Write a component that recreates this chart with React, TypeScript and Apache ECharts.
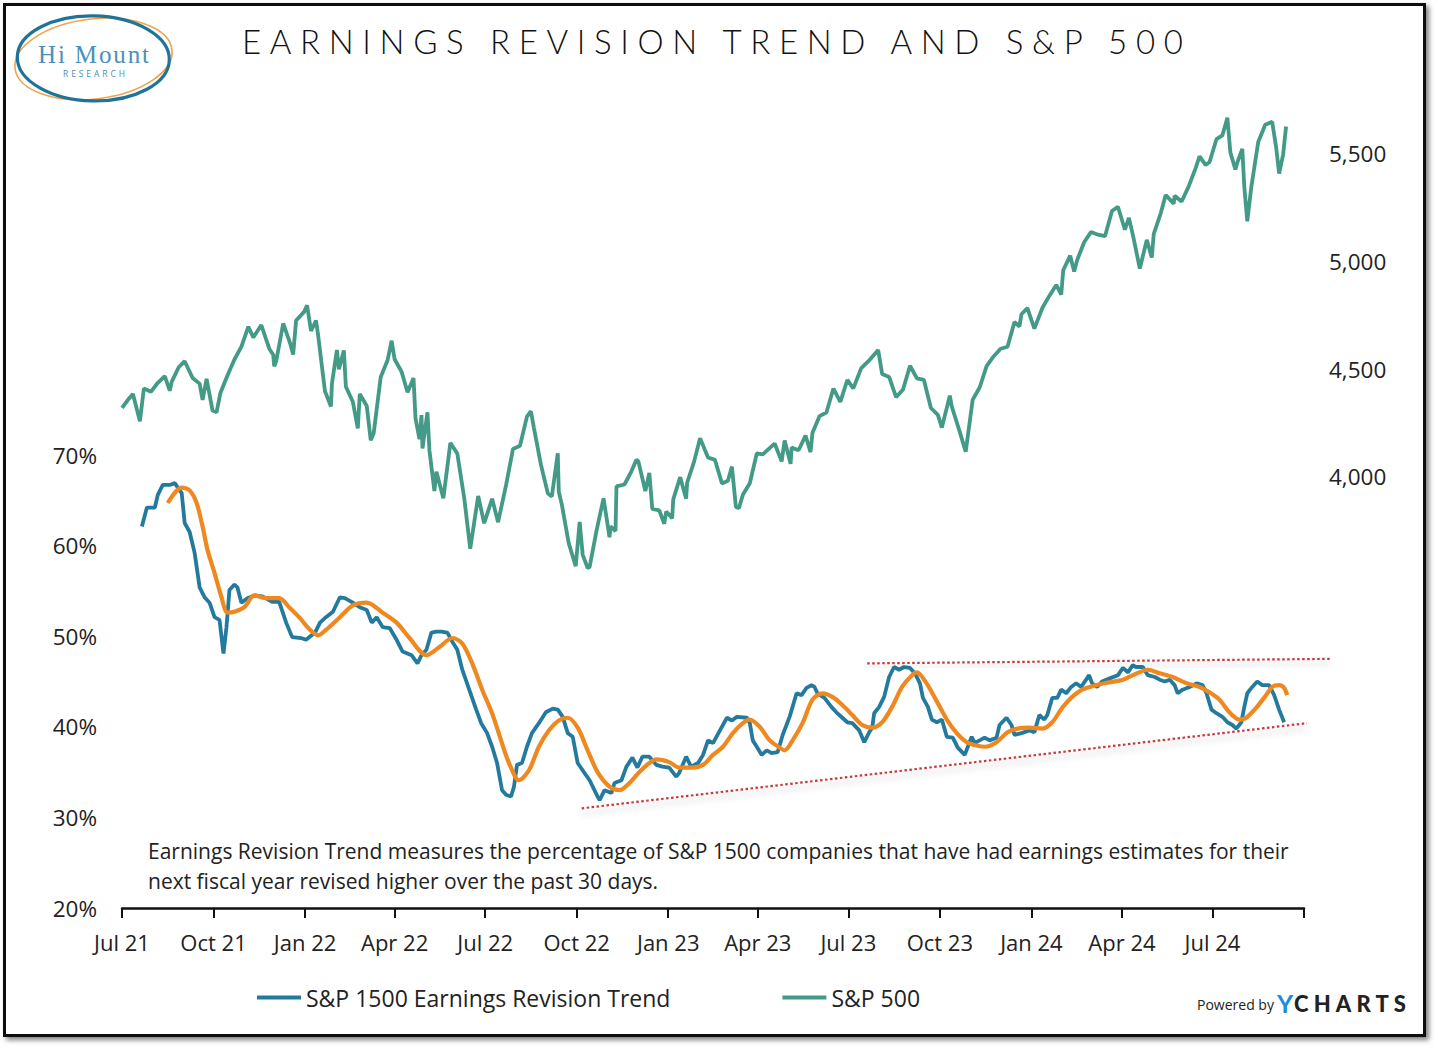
import React, { useEffect, useRef } from 'react';
import * as echarts from 'echarts';

const TITLE = 'EARNINGS REVISION TREND AND S&P 500';
const NOTE_LINES = [
  'Earnings Revision Trend measures the percentage of S&P 1500 companies that have had earnings estimates for their',
  'next fiscal year revised higher over the past 30 days.',
];
const SERIES_REVISION = 'S&P 1500 Earnings Revision Trend';
const SERIES_AVG = 'Earnings Revision Trend Average';
const SERIES_SPX = 'S&P 500';

const QUARTER_TICKS = [
  '2021-07-01', '2021-10-01', '2022-01-01', '2022-04-01', '2022-07-01', '2022-10-01', '2023-01-01',
  '2023-04-01', '2023-07-01', '2023-10-01', '2024-01-01', '2024-04-01', '2024-07-01', '2024-10-01',
];
const QUARTER_LABELS = [
  'Jul 21', 'Oct 21', 'Jan 22', 'Apr 22', 'Jul 22', 'Oct 22', 'Jan 23',
  'Apr 23', 'Jul 23', 'Oct 23', 'Jan 24', 'Apr 24', 'Jul 24', '',
];
const LEFT_TICKS = [20, 30, 40, 50, 60, 70];
const RIGHT_TICKS = [4000, 4500, 5000, 5500];

const REVISION: [string, number][] = [
  ['2021-07-21', 62.1], ['2021-07-26', 64.2], ['2021-08-03', 64.2], ['2021-08-06', 65.6], ['2021-08-11', 66.7],
  ['2021-08-18', 66.7], ['2021-08-23', 66.9], ['2021-08-30', 65.8], ['2021-09-02', 62.5], ['2021-09-07', 61.5],
  ['2021-09-12', 59.2], ['2021-09-17', 55.4], ['2021-09-22', 54.3], ['2021-09-27', 53.7], ['2021-10-02', 52.1],
  ['2021-10-07', 51.8], ['2021-10-11', 48.1], ['2021-10-14', 51.0], ['2021-10-17', 55.1], ['2021-10-22', 55.7],
  ['2021-10-25', 55.4], ['2021-10-29', 53.7], ['2021-11-04', 54.2], ['2021-11-11', 54.5], ['2021-11-19', 54.4],
  ['2021-11-29', 53.8], ['2021-12-06', 53.8], ['2021-12-13', 51.5], ['2021-12-19', 49.9], ['2021-12-28', 49.8],
  ['2022-01-02', 49.6], ['2022-01-11', 50.4], ['2022-01-16', 51.5], ['2022-01-22', 52.1], ['2022-01-29', 52.7],
  ['2022-02-05', 54.3], ['2022-02-10', 54.2], ['2022-02-18', 53.7], ['2022-02-25', 53.2], ['2022-03-04', 52.9],
  ['2022-03-09', 51.5], ['2022-03-14', 52.1], ['2022-03-20', 51.0], ['2022-03-27', 50.9], ['2022-04-03', 49.6],
  ['2022-04-09', 48.3], ['2022-04-18', 47.9], ['2022-04-24', 47.0], ['2022-04-28', 47.9], ['2022-05-03', 48.5],
  ['2022-05-08', 50.4], ['2022-05-13', 50.5], ['2022-05-18', 50.5], ['2022-05-24', 50.4], ['2022-05-29', 49.4],
  ['2022-06-03', 48.5], ['2022-06-08', 46.3], ['2022-06-15', 44.1], ['2022-06-22', 41.9], ['2022-06-27', 40.4],
  ['2022-07-03', 39.3], ['2022-07-08', 37.8], ['2022-07-13', 36.0], ['2022-07-18', 33.0], ['2022-07-22', 32.5],
  ['2022-07-27', 32.3], ['2022-07-30', 33.4], ['2022-08-02', 35.8], ['2022-08-07', 36.0], ['2022-08-12', 37.8],
  ['2022-08-17', 39.3], ['2022-08-24', 40.4], ['2022-08-31', 41.6], ['2022-09-07', 42.0], ['2022-09-12', 41.9],
  ['2022-09-17', 41.1], ['2022-09-22', 39.3], ['2022-09-27', 38.9], ['2022-10-02', 36.0], ['2022-10-07', 35.2],
  ['2022-10-14', 34.1], ['2022-10-22', 32.3], ['2022-10-24', 31.9], ['2022-10-29', 33.0], ['2022-11-05', 32.7],
  ['2022-11-08', 33.8], ['2022-11-15', 34.1], ['2022-11-20', 35.6], ['2022-11-26', 36.6], ['2022-12-01', 35.5],
  ['2022-12-06', 36.7], ['2022-12-13', 36.7], ['2022-12-20', 35.8], ['2022-12-26', 35.6], ['2023-01-02', 35.5],
  ['2023-01-09', 34.5], ['2023-01-12', 34.9], ['2023-01-19', 36.7], ['2023-01-24', 35.6], ['2023-01-31', 36.0],
  ['2023-02-05', 36.9], ['2023-02-10', 38.5], ['2023-02-15', 38.2], ['2023-02-22', 39.6], ['2023-03-01', 41.0],
  ['2023-03-06', 40.7], ['2023-03-11', 41.1], ['2023-03-21', 41.0], ['2023-03-24', 40.4], ['2023-03-27', 38.5],
  ['2023-03-31', 37.8], ['2023-04-05', 36.9], ['2023-04-10', 37.4], ['2023-04-15', 37.1], ['2023-04-21', 37.2],
  ['2023-04-26', 39.1], ['2023-05-03', 41.1], ['2023-05-10', 43.7], ['2023-05-15', 43.5], ['2023-05-20', 44.3],
  ['2023-05-25', 44.6], ['2023-05-28', 44.4], ['2023-05-31', 43.7], ['2023-06-07', 43.2], ['2023-06-14', 42.2],
  ['2023-06-19', 41.6], ['2023-06-25', 41.0], ['2023-06-30', 40.5], ['2023-07-05', 40.4], ['2023-07-12', 39.6],
  ['2023-07-17', 38.3], ['2023-07-22', 39.4], ['2023-07-25', 39.9], ['2023-07-27', 41.5], ['2023-08-01', 42.2],
  ['2023-08-06', 43.3], ['2023-08-11', 45.5], ['2023-08-16', 46.6], ['2023-08-21', 46.3], ['2023-08-26', 46.6],
  ['2023-09-01', 46.5], ['2023-09-06', 45.9], ['2023-09-11', 44.8], ['2023-09-14', 43.2], ['2023-09-19', 42.2],
  ['2023-09-23', 40.8], ['2023-09-28', 40.5], ['2023-10-03', 40.8], ['2023-10-08', 38.9], ['2023-10-14', 38.8],
  ['2023-10-19', 37.7], ['2023-10-26', 36.9], ['2023-11-02', 38.9], ['2023-11-05', 38.2], ['2023-11-15', 38.8],
  ['2023-11-20', 38.5], ['2023-11-27', 38.8], ['2023-11-30', 40.2], ['2023-12-07', 41.0], ['2023-12-12', 40.2],
  ['2023-12-15', 39.1], ['2023-12-22', 39.3], ['2023-12-30', 39.6], ['2024-01-04', 39.4], ['2024-01-09', 41.3],
  ['2024-01-14', 40.8], ['2024-01-17', 41.3], ['2024-01-22', 43.2], ['2024-01-27', 43.2], ['2024-01-31', 44.1],
  ['2024-02-05', 43.7], ['2024-02-10', 44.4], ['2024-02-15', 44.8], ['2024-02-20', 44.4], ['2024-02-25', 45.2],
  ['2024-02-28', 45.7], ['2024-03-02', 44.8], ['2024-03-07', 44.4], ['2024-03-12', 45.0], ['2024-03-21', 45.4],
  ['2024-03-28', 45.7], ['2024-04-02', 46.5], ['2024-04-07', 46.0], ['2024-04-12', 46.8], ['2024-04-15', 46.6],
  ['2024-04-22', 46.6], ['2024-04-27', 45.7], ['2024-05-04', 45.5], ['2024-05-09', 45.2], ['2024-05-14', 45.0],
  ['2024-05-19', 45.2], ['2024-05-24', 44.6], ['2024-05-27', 43.7], ['2024-06-01', 44.1], ['2024-06-08', 44.4],
  ['2024-06-15', 44.8], ['2024-06-21', 44.6], ['2024-06-25', 43.7], ['2024-06-30', 41.9], ['2024-07-05', 41.5],
  ['2024-07-11', 41.1], ['2024-07-16', 40.5], ['2024-07-21', 40.2], ['2024-07-25', 39.8], ['2024-07-30', 40.5],
  ['2024-08-02', 42.2], ['2024-08-05', 43.7], ['2024-08-10', 44.4], ['2024-08-15', 45.0], ['2024-08-20', 44.6],
  ['2024-08-27', 44.6], ['2024-09-01', 43.5], ['2024-09-06', 41.9], ['2024-09-11', 40.5],
];

const REVISION_AVG: [string, number][] = [
  ['2021-08-16', 64.7], ['2021-08-30', 66.4], ['2021-09-07', 66.1], ['2021-09-14', 64.7], ['2021-09-20', 62.1],
  ['2021-09-25', 59.5], ['2021-10-02', 57.0], ['2021-10-09', 54.3], ['2021-10-15', 52.6], ['2021-10-22', 52.7],
  ['2021-11-01', 53.2], ['2021-11-11', 54.5], ['2021-11-23', 54.2], ['2021-12-06', 54.2], ['2021-12-16', 53.2],
  ['2021-12-26', 52.1], ['2022-01-06', 50.7], ['2022-01-14', 50.1], ['2022-01-22', 50.7], ['2022-02-05', 52.1],
  ['2022-02-18', 53.4], ['2022-03-04', 53.7], ['2022-03-20', 52.6], ['2022-04-03', 51.5], ['2022-04-16', 49.8],
  ['2022-05-03', 47.9], ['2022-05-16', 48.8], ['2022-05-29', 49.8], ['2022-06-08', 49.2], ['2022-06-18', 47.0],
  ['2022-06-28', 44.1], ['2022-07-08', 41.5], ['2022-07-17', 38.5], ['2022-07-25', 36.0], ['2022-08-04', 34.1],
  ['2022-08-14', 35.2], ['2022-08-24', 37.8], ['2022-09-03', 39.6], ['2022-09-13', 40.7], ['2022-09-22', 41.0],
  ['2022-10-02', 39.9], ['2022-10-12', 37.4], ['2022-10-22', 35.0], ['2022-11-03', 33.4], ['2022-11-13', 33.0],
  ['2022-11-23', 33.8], ['2022-12-03', 35.0], ['2022-12-13', 36.0], ['2022-12-20', 36.4], ['2023-01-02', 36.1],
  ['2023-01-12', 35.5], ['2023-01-25', 35.5], ['2023-02-05', 35.8], ['2023-02-15', 36.9], ['2023-02-25', 37.8],
  ['2023-03-07', 39.3], ['2023-03-17', 40.4], ['2023-03-24', 40.8], ['2023-04-03', 40.0], ['2023-04-13', 38.5],
  ['2023-04-23', 37.7], ['2023-04-28', 37.4], ['2023-05-06', 38.5], ['2023-05-16', 40.4], ['2023-05-26', 43.0],
  ['2023-06-05', 43.7], ['2023-06-15', 43.3], ['2023-06-25', 42.4], ['2023-07-05', 41.3], ['2023-07-15', 40.2],
  ['2023-07-25', 39.9], ['2023-08-04', 40.5], ['2023-08-14', 42.2], ['2023-08-24', 44.4], ['2023-09-03', 45.7],
  ['2023-09-08', 46.0], ['2023-09-17', 44.9], ['2023-09-27', 43.0], ['2023-10-08', 40.8], ['2023-10-18', 39.3],
  ['2023-10-28', 38.3], ['2023-11-08', 37.9], ['2023-11-15', 37.8], ['2023-11-27', 38.3], ['2023-12-08', 39.4],
  ['2023-12-18', 39.8], ['2023-12-30', 39.9], ['2024-01-12', 39.8], ['2024-01-22', 40.5], ['2024-02-01', 42.1],
  ['2024-02-11', 43.3], ['2024-02-21', 44.1], ['2024-03-06', 44.6], ['2024-03-19', 44.9], ['2024-04-02', 45.2],
  ['2024-04-12', 45.7], ['2024-04-27', 46.3], ['2024-05-09', 45.9], ['2024-05-22', 45.5], ['2024-06-05', 44.8],
  ['2024-06-18', 44.4], ['2024-06-28', 43.8], ['2024-07-08', 43.0], ['2024-07-18', 41.6], ['2024-07-28', 40.8],
  ['2024-08-04', 41.0], ['2024-08-14', 42.1], ['2024-08-24', 43.5], ['2024-08-30', 44.4], ['2024-09-06', 44.6],
  ['2024-09-11', 44.3], ['2024-09-14', 43.5],
];

const SP500: [string, number][] = [
  ['2021-07-01', 4320], ['2021-07-07', 4358], ['2021-07-12', 4385], ['2021-07-19', 4258], ['2021-07-23', 4411],
  ['2021-07-30', 4395], ['2021-08-06', 4437], ['2021-08-13', 4468], ['2021-08-18', 4400], ['2021-08-20', 4442],
  ['2021-08-27', 4509], ['2021-09-02', 4537], ['2021-09-10', 4459], ['2021-09-17', 4433], ['2021-09-20', 4358],
  ['2021-09-24', 4455], ['2021-09-30', 4308], ['2021-10-04', 4300], ['2021-10-08', 4391], ['2021-10-15', 4471],
  ['2021-10-22', 4545], ['2021-10-29', 4605], ['2021-11-05', 4697], ['2021-11-10', 4647], ['2021-11-18', 4705],
  ['2021-11-26', 4595], ['2021-11-30', 4567], ['2021-12-01', 4513], ['2021-12-03', 4538], ['2021-12-10', 4712],
  ['2021-12-17', 4620], ['2021-12-20', 4568], ['2021-12-23', 4726], ['2021-12-31', 4766], ['2022-01-03', 4797],
  ['2022-01-07', 4677], ['2022-01-12', 4726], ['2022-01-14', 4662], ['2022-01-21', 4398], ['2022-01-27', 4327],
  ['2022-01-28', 4432], ['2022-02-02', 4589], ['2022-02-04', 4500], ['2022-02-09', 4587], ['2022-02-11', 4419],
  ['2022-02-18', 4349], ['2022-02-23', 4225], ['2022-02-25', 4385], ['2022-03-04', 4329], ['2022-03-08', 4170],
  ['2022-03-11', 4204], ['2022-03-18', 4463], ['2022-03-25', 4543], ['2022-03-29', 4632], ['2022-04-01', 4546],
  ['2022-04-08', 4488], ['2022-04-14', 4393], ['2022-04-20', 4459], ['2022-04-22', 4272], ['2022-04-26', 4175],
  ['2022-04-28', 4287], ['2022-04-29', 4132], ['2022-05-04', 4300], ['2022-05-06', 4123], ['2022-05-11', 3935],
  ['2022-05-13', 4024], ['2022-05-20', 3901], ['2022-05-27', 4158], ['2022-06-03', 4109], ['2022-06-10', 3901],
  ['2022-06-16', 3667], ['2022-06-24', 3912], ['2022-06-30', 3785], ['2022-07-08', 3899], ['2022-07-14', 3790],
  ['2022-07-22', 3962], ['2022-07-29', 4130], ['2022-08-05', 4145], ['2022-08-12', 4280], ['2022-08-16', 4305],
  ['2022-08-19', 4228], ['2022-08-26', 4058], ['2022-09-02', 3924], ['2022-09-06', 3909], ['2022-09-12', 4110],
  ['2022-09-13', 3932], ['2022-09-16', 3873], ['2022-09-23', 3693], ['2022-09-30', 3586], ['2022-10-04', 3791],
  ['2022-10-07', 3640], ['2022-10-12', 3577], ['2022-10-14', 3583], ['2022-10-21', 3752], ['2022-10-28', 3901],
  ['2022-11-03', 3720], ['2022-11-04', 3771], ['2022-11-09', 3749], ['2022-11-10', 3956], ['2022-11-18', 3965],
  ['2022-11-25', 4026], ['2022-11-30', 4080], ['2022-12-02', 4072], ['2022-12-09', 3934], ['2022-12-13', 4019],
  ['2022-12-16', 3852], ['2022-12-23', 3845], ['2022-12-28', 3783], ['2022-12-30', 3840], ['2023-01-05', 3808],
  ['2023-01-06', 3895], ['2023-01-13', 3999], ['2023-01-19', 3899], ['2023-01-20', 3973], ['2023-01-27', 4071],
  ['2023-02-02', 4180], ['2023-02-10', 4090], ['2023-02-17', 4079], ['2023-02-24', 3970], ['2023-03-02', 3982],
  ['2023-03-06', 4048], ['2023-03-10', 3862], ['2023-03-13', 3855], ['2023-03-17', 3917], ['2023-03-24', 3971],
  ['2023-03-31', 4109], ['2023-04-06', 4105], ['2023-04-14', 4138], ['2023-04-18', 4155], ['2023-04-25', 4072],
  ['2023-04-28', 4169], ['2023-05-04', 4061], ['2023-05-05', 4136], ['2023-05-12', 4124], ['2023-05-19', 4192],
  ['2023-05-24', 4115], ['2023-05-26', 4205], ['2023-06-02', 4282], ['2023-06-09', 4299], ['2023-06-16', 4410],
  ['2023-06-23', 4348], ['2023-06-30', 4450], ['2023-07-06', 4411], ['2023-07-14', 4505], ['2023-07-21', 4536],
  ['2023-07-31', 4589], ['2023-08-04', 4478], ['2023-08-11', 4464], ['2023-08-18', 4370], ['2023-08-25', 4406],
  ['2023-09-01', 4516], ['2023-09-08', 4457], ['2023-09-15', 4450], ['2023-09-22', 4320], ['2023-09-29', 4288],
  ['2023-10-03', 4229], ['2023-10-11', 4377], ['2023-10-13', 4327], ['2023-10-20', 4224], ['2023-10-27', 4117],
  ['2023-11-03', 4358], ['2023-11-10', 4415], ['2023-11-17', 4514], ['2023-11-24', 4559], ['2023-12-01', 4595],
  ['2023-12-08', 4604], ['2023-12-15', 4719], ['2023-12-20', 4698], ['2023-12-22', 4755], ['2023-12-28', 4783],
  ['2024-01-04', 4688], ['2024-01-12', 4784], ['2024-01-19', 4840], ['2024-01-26', 4891], ['2024-01-31', 4846],
  ['2024-02-02', 4959], ['2024-02-09', 5027], ['2024-02-13', 4953], ['2024-02-16', 5006], ['2024-02-23', 5089],
  ['2024-03-01', 5137], ['2024-03-08', 5124], ['2024-03-15', 5117], ['2024-03-22', 5234], ['2024-03-28', 5254],
  ['2024-04-04', 5147], ['2024-04-08', 5202], ['2024-04-12', 5123], ['2024-04-19', 4967], ['2024-04-26', 5100],
  ['2024-05-01', 5018], ['2024-05-03', 5128], ['2024-05-10', 5223], ['2024-05-15', 5308], ['2024-05-23', 5268],
  ['2024-05-24', 5305], ['2024-05-31', 5278], ['2024-06-07', 5347], ['2024-06-14', 5432], ['2024-06-18', 5487],
  ['2024-06-24', 5448], ['2024-06-28', 5460], ['2024-07-05', 5567], ['2024-07-11', 5585], ['2024-07-16', 5667],
  ['2024-07-19', 5505], ['2024-07-24', 5427], ['2024-07-26', 5459], ['2024-07-31', 5522], ['2024-08-02', 5346],
  ['2024-08-05', 5186], ['2024-08-09', 5344], ['2024-08-16', 5554], ['2024-08-23', 5634], ['2024-08-30', 5648],
  ['2024-09-03', 5529], ['2024-09-06', 5408], ['2024-09-10', 5496], ['2024-09-13', 5626],
];

const UPPER_TREND: [string, number][] = [['2023-07-20', 47.0], ['2024-10-27', 47.5]];
const LOWER_TREND: [string, number][] = [['2022-10-06', 31.0], ['2024-10-04', 40.4]];

const FONT = '"Open Sans", "Noto Sans", sans-serif';
const BLUE = '#237a9e';
const GREEN = '#439a86';
const ORANGE = '#f08820';
const RED = '#c8393d';

const SPACED = [
  { text: TITLE, width: 941 },
  { text: 'RESEARCH', width: 62 },
  { text: 'CHARTS', width: 112 },
  { text: 'Hi Mount', width: 111 },
];

function ts(s: string): number {
  const [y, m, d] = s.split('-').map(Number);
  return new Date(y, m - 1, d).getTime();
}
const toPts = (arr: [string, number][]) => arr.map(([d, v]) => [ts(d), v]);

function applySpacing(root: HTMLElement) {
  const nodes = root.querySelectorAll('text');
  nodes.forEach((el: any) => {
    const t = el.textContent;
    const spec = SPACED.find((s) => s.text === t);
    if (!spec) return;
    el.setAttribute('letter-spacing', '0');
    const w = el.getComputedTextLength();
    const ls = (spec.width - w) / (t.length - 1);
    el.setAttribute('letter-spacing', ls.toFixed(2));
  });
}

export default function App() {
  const ref = useRef<HTMLDivElement>(null);
  useEffect(() => {
    document.body.style.margin = '0';
    const el = ref.current!;
    const chart = echarts.init(el, null, { renderer: 'svg' });
    const tickVals = QUARTER_TICKS.map(ts);
    const labelVals = tickVals.filter((_, i) => QUARTER_LABELS[i] !== '');
    const labelFor = (v: number) => {
      let best = 0;
      tickVals.forEach((t, i) => { if (Math.abs(t - v) < Math.abs(tickVals[best] - v)) best = i; });
      return Math.abs(tickVals[best] - v) < 86400000 * 3 ? QUARTER_LABELS[best] : '';
    };
    const option: any = {
      animation: false,
      backgroundColor: '#ffffff',
      textStyle: { fontFamily: FONT },
      grid: { left: 122, right: 134, top: 89, bottom: 141, containLabel: false },
      legend: {
        data: [
          { name: SERIES_REVISION, icon: 'rect' },
          { name: SERIES_SPX, icon: 'rect' },
        ],
        left: 257,
        top: 986,
        padding: 0,
        itemWidth: 44,
        itemHeight: 4,
        itemGap: 112,
        selectedMode: false,
        textStyle: { fontSize: 23, color: '#222', fontFamily: FONT },
      },
      xAxis: {
        type: 'value',
        min: ts(QUARTER_TICKS[0]),
        max: ts(QUARTER_TICKS[QUARTER_TICKS.length - 1]),
        axisLine: { show: true, lineStyle: { color: '#111', width: 2.5 } },
        axisTick: { show: true, customValues: tickVals, length: 10, lineStyle: { color: '#111', width: 2 } },
        axisLabel: {
          customValues: labelVals,
          formatter: (v: number) => labelFor(v),
          fontSize: 22,
          color: '#222',
          margin: 23,
          fontFamily: FONT,
        },
        splitLine: { show: false },
      },
      yAxis: [
        {
          type: 'value',
          position: 'left',
          min: 20,
          max: 110.4,
          axisLine: { show: false },
          axisTick: { show: false },
          splitLine: { show: false },
          axisLabel: {
            customValues: LEFT_TICKS,
            formatter: (v: number) => (LEFT_TICKS.indexOf(Math.round(v)) >= 0 ? `${Math.round(v)}%` : ''),
            fontSize: 22.5,
            color: '#222',
            margin: 25,
            fontFamily: FONT,
          },
        },
        {
          type: 'value',
          position: 'right',
          min: 2000,
          max: 5800,
          axisLine: { show: false },
          axisTick: { show: false },
          splitLine: { show: false },
          axisLabel: {
            customValues: RIGHT_TICKS,
            formatter: (v: number) => (RIGHT_TICKS.indexOf(Math.round(v)) >= 0 ? Math.round(v).toLocaleString('en-US') : ''),
            fontSize: 22.5,
            color: '#222',
            margin: 25,
            fontFamily: FONT,
          },
        },
      ],
      series: [
        {
          name: SERIES_REVISION,
          type: 'line',
          yAxisIndex: 0,
          data: toPts(REVISION),
          showSymbol: false,
          symbol: 'none',
          color: BLUE,
          lineStyle: { color: BLUE, width: 3.8 },
          z: 3,
        },
        {
          name: SERIES_AVG,
          type: 'line',
          yAxisIndex: 0,
          data: toPts(REVISION_AVG),
          showSymbol: false,
          symbol: 'none',
          smooth: 0.3,
          color: ORANGE,
          lineStyle: { color: ORANGE, width: 4.2 },
          z: 4,
        },
        {
          name: SERIES_SPX,
          type: 'line',
          yAxisIndex: 1,
          data: toPts(SP500),
          showSymbol: false,
          symbol: 'none',
          color: GREEN,
          lineStyle: { color: GREEN, width: 3.8 },
          z: 3,
        },
      ],
      graphic: [
        {
          id: 'frame',
          type: 'rect',
          z: -10,
          silent: true,
          shape: { x: 4.5, y: 4.5, width: 1420, height: 1031 },
          style: {
            fill: '#ffffff', stroke: '#111', lineWidth: 3,
            shadowBlur: 5, shadowColor: 'rgba(0,0,0,0.5)', shadowOffsetX: 3, shadowOffsetY: 3,
          },
        },
        {
          id: 'logoOrange',
          type: 'ellipse',
          z: 50,
          x: 93.5,
          y: 59,
          rotation: 0.12,
          shape: { cx: 0, cy: 0, rx: 79, ry: 40 },
          style: { fill: 'none', stroke: '#f2a24a', lineWidth: 1.6 },
        },
        {
          id: 'logoBlue',
          type: 'ellipse',
          z: 51,
          x: 93.3,
          y: 58.4,
          rotation: -0.02,
          shape: { cx: 0, cy: 0, rx: 76, ry: 42.5 },
          style: { fill: 'none', stroke: '#1f7399', lineWidth: 3.2 },
        },
        {
          id: 'logoName',
          type: 'text',
          z: 52,
          x: 38,
          y: 54,
          style: {
            text: 'Hi Mount', fontFamily: '"Liberation Serif", "DejaVu Serif", serif', fontSize: 25,
            fill: '#4a90b9', textAlign: 'left', textVerticalAlign: 'middle',
          },
        },
        {
          id: 'logoSub',
          type: 'text',
          z: 52,
          x: 63,
          y: 73.5,
          style: {
            text: 'RESEARCH', fontFamily: FONT, fontSize: 8.5, fill: '#4a90b9',
            textAlign: 'left', textVerticalAlign: 'middle',
          },
        },
        {
          id: 'title',
          type: 'text',
          z: 52,
          x: 242,
          y: 41,
          style: {
            text: TITLE, fontFamily: 'Lato, "Open Sans", sans-serif', fontWeight: 300, fontSize: 33,
            fill: '#111', textAlign: 'left', textVerticalAlign: 'middle',
          },
        },
        {
          id: 'note',
          type: 'text',
          z: 52,
          x: 148,
          y: 836,
          style: {
            text: NOTE_LINES.join('\n'), fontFamily: FONT, fontSize: 21, lineHeight: 30,
            fill: '#222', textAlign: 'left', textVerticalAlign: 'top',
          },
        },
        {
          id: 'powered',
          type: 'text',
          z: 52,
          x: 1197,
          y: 1004,
          style: {
            text: 'Powered by', fontFamily: FONT, fontSize: 14, fill: '#222',
            textAlign: 'left', textVerticalAlign: 'middle',
          },
        },
        {
          id: 'ycY',
          type: 'text',
          z: 52,
          x: 1277,
          y: 1003,
          style: {
            text: 'Y', fontFamily: 'Lato, "Open Sans", sans-serif', fontWeight: 'bold', fontSize: 25, fill: '#1a8de3',
            textAlign: 'left', textVerticalAlign: 'middle',
          },
        },
        {
          id: 'ycCharts',
          type: 'text',
          z: 52,
          x: 1294,
          y: 1003,
          style: {
            text: 'CHARTS', fontFamily: 'Lato, "Open Sans", sans-serif', fontWeight: 900, fontSize: 22, fill: '#222',
            textAlign: 'left', textVerticalAlign: 'middle',
          },
        },
      ],
    };
    chart.setOption(option);

    // Trend lines: projected through the chart's own axes, drawn unclipped.
    const toPx = (p: [string, number]) =>
      chart.convertToPixel({ xAxisIndex: 0, yAxisIndex: 0 } as any, [ts(p[0]), p[1]]) as number[];
    const trendLine = (id: string, arr: [string, number][]) => {
      const a = toPx(arr[0]);
      const b = toPx(arr[1]);
      return {
        id,
        type: 'line',
        z: 5,
        silent: true,
        shape: { x1: a[0], y1: a[1], x2: b[0], y2: b[1] },
        style: {
          stroke: RED, lineWidth: 2.2, lineDash: [2.5, 2.5],
          shadowBlur: 6, shadowColor: 'rgba(0,0,0,0.28)', shadowOffsetY: 5,
        },
      };
    };
    chart.setOption({ graphic: [trendLine('upperTrend', UPPER_TREND), trendLine('lowerTrend', LOWER_TREND)] });

    const run = () => applySpacing(el);
    chart.on('finished', run);
    run();
    const raf = requestAnimationFrame(run);
    const t1 = setTimeout(run, 50);
    const t2 = setTimeout(run, 300);
    return () => {
      cancelAnimationFrame(raf);
      clearTimeout(t1);
      clearTimeout(t2);
      chart.dispose();
    };
  }, []);
  return <div ref={ref} style={{ width: 1438, height: 1049 }} />;
}
